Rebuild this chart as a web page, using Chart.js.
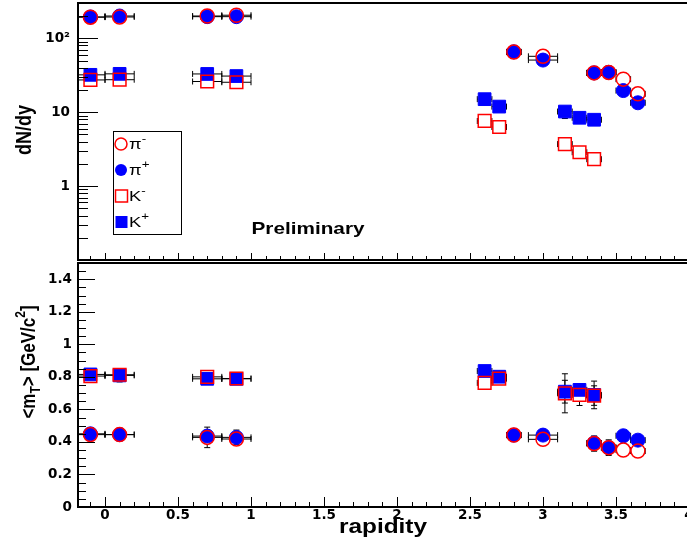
<!DOCTYPE html>
<html>
<head>
<meta charset="utf-8">
<script src="https://cdn.jsdelivr.net/npm/chart.js@4.4.0/dist/chart.umd.min.js"></script>
<style>
  html, body { margin: 0; padding: 0; background: #fff; overflow: hidden; }
  #wrap { position: relative; width: 687px; height: 546px; overflow: hidden; }
  #top { position: absolute; left: 0; top: 0; }
  #bottom { position: absolute; left: 0; top: 262px; }
</style>
</head>
<body>
<div id="wrap">
  <canvas id="top" width="700" height="262"></canvas>
  <canvas id="bottom" width="700" height="284"></canvas>
</div>
<script>
// rapidity points
const pionRapidity = [-0.1, 0.1, 0.7, 0.9, 2.8, 3.0, 3.35, 3.45, 3.55, 3.65];
const pionRapidityErr = [0.1, 0.1, 0.1, 0.1, 0.05, 0.1, 0.05, 0.05, 0.05, 0.05];
const kaonRapidity = [-0.1, 0.1, 0.7, 0.9, 2.6, 2.7, 3.15, 3.25, 3.35];
const kaonRapidityErr = [0.1, 0.1, 0.1, 0.1, 0.05, 0.05, 0.05, 0.05, 0.05];

// dN/dy
const piMinusDndy = [193, 194, 200, 205, 65, 57, 34, 34.5, 28, 17.7];
const piPlusDndy = [194, 200, 196, 196, 65.5, 50.7, 34, 34.6, 19.6, 13.4];
const piDndyErr = [4, 4, 4, 4, 1.5, 1.5, 1, 1, 0.8, 0.6];
const kMinusDndy = [27.3, 27.5, 26, 25.4, 7.6, 6.3, 3.7, 2.87, 2.31];
const kPlusDndy = [32, 33, 32.9, 30.8, 15.0, 11.9, 10.2, 8.4, 7.9];
const kMinusDndyErr = [1, 1, 1, 1, 0.3, 0.3, 0.2, 0.15, 0.12];
const kPlusDndyErr = [1, 1, 1, 1, 0.6, 0.5, 2.0, 0.4, 0.4];

// <mT>
const piMinusMt = [0.445, 0.445, 0.428, 0.418, 0.442, 0.416, 0.39, 0.365, 0.35, 0.344];
const piPlusMt = [0.45, 0.445, 0.436, 0.428, 0.442, 0.442, 0.393, 0.365, 0.438, 0.411];
const piMinusMtErr = [0.01, 0.01, 0.063, 0.03, 0.01, 0.01, 0.047, 0.048, 0.01, 0.01];
const piPlusMtErr = [0.01, 0.01, 0.03, 0.045, 0.01, 0.01, 0.04, 0.03, 0.02, 0.02];
const kMinusMt = [0.805, 0.813, 0.8, 0.79, 0.763, 0.789, 0.699, 0.689, 0.685];
const kPlusMt = [0.815, 0.809, 0.788, 0.788, 0.836, 0.801, 0.709, 0.72, 0.689];
const kMinusMtErr = [0.01, 0.01, 0.01, 0.01, 0.01, 0.01, 0.12, 0.065, 0.06];
const kPlusMtErr = [0.01, 0.04, 0.01, 0.01, 0.01, 0.01, 0.07, 0.03, 0.085];

// axes
const xMin = -0.185, xMax = 4;
const xTicks = [0, 0.5, 1, 1.5, 2, 2.5, 3, 3.5, 4];
const dndyTicks = [1, 10, 100];
const dndyTickLabels = ['1', '10', '10\u00b2'];
const mtTicks = [0, 0.2, 0.4, 0.6, 0.8, 1, 1.2, 1.4];

const RED = '#ff0000', BLUE = '#0000ff';
const tickFont = { family: 'DejaVu Sans', weight: 'bold', size: 13.5 };
const SX = 1.22; // the original text is horizontally stretched

function pts(xs, ys) { return xs.map((x, i) => ({ x: x, y: ys[i] })); }

function series(label, xs, ys, xerr, yerr, open, style) {
  return {
    label: label,
    data: pts(xs, ys),
    xErr: xerr, yErr: yerr,
    showLine: false,
    pointStyle: style,
    pointRadius: style === 'rect' ? 9 : 7,
    borderWidth: open ? 1.5 : 1,
    borderColor: open ? RED : BLUE,
    backgroundColor: open ? 'rgba(0,0,0,0)' : BLUE,
    errGap: style === 'rect' ? 6.3 : 7
  };
}

function richText(ctx, x, y, parts, opt) {
  ctx.save();
  ctx.translate(x, y);
  ctx.scale(SX, 1);
  if (opt.rotate) ctx.rotate(-Math.PI / 2);
  ctx.textBaseline = 'alphabetic';
  ctx.textAlign = 'left';
  ctx.fillStyle = '#000';
  let w = 0;
  parts.forEach(p => { ctx.font = p.font; w += ctx.measureText(p.t).width; });
  let cx = opt.align === 'left' ? 0 : -w / 2;
  parts.forEach(p => {
    ctx.font = p.font;
    ctx.fillText(p.t, cx, p.dy || 0);
    cx += ctx.measureText(p.t).width;
  });
  ctx.restore();
}

const errorBars = {
  id: 'errorBars',
  beforeDatasetsDraw(chart) {
    const { ctx, chartArea: a } = chart;
    const xs = chart.scales.x, ys = chart.scales.y;
    ctx.save();
    ctx.beginPath();
    ctx.rect(a.left, a.top, a.right - a.left, a.bottom - a.top);
    ctx.clip();
    ctx.strokeStyle = '#000';
    ctx.lineWidth = 1;
    chart.data.datasets.forEach(ds => {
      const g = ds.errGap;
      ds.data.forEach((p, i) => {
        const px = xs.getPixelForValue(p.x), py = ys.getPixelForValue(p.y);
        const ex = ds.xErr[i], ey = ds.yErr[i];
        const xl = xs.getPixelForValue(p.x - ex), xr = xs.getPixelForValue(p.x + ex);
        const yt = ys.getPixelForValue(p.y + ey), yb = ys.getPixelForValue(p.y - ey);
        ctx.beginPath();
        if (px - xl > g) {
          ctx.moveTo(xl, py); ctx.lineTo(px - g, py);
          ctx.moveTo(xl, py - 3); ctx.lineTo(xl, py + 3);
        }
        if (xr - px > g) {
          ctx.moveTo(px + g, py); ctx.lineTo(xr, py);
          ctx.moveTo(xr, py - 3); ctx.lineTo(xr, py + 3);
        }
        if (py - yt > g) {
          ctx.moveTo(px, yt); ctx.lineTo(px, py - g);
          ctx.moveTo(px - 3, yt); ctx.lineTo(px + 3, yt);
        }
        if (yb - py > g) {
          ctx.moveTo(px, py + g); ctx.lineTo(px, yb);
          ctx.moveTo(px - 3, yb); ctx.lineTo(px + 3, yb);
        }
        ctx.stroke();
      });
    });
    ctx.restore();
  }
};

// frame with inward ROOT-style ticks
const frame = {
  id: 'frame',
  afterDraw(chart, args, opts) {
    const { ctx, chartArea: a } = chart;
    const xs = chart.scales.x, ys = chart.scales.y;
    ctx.save();
    ctx.strokeStyle = '#000';
    ctx.lineWidth = 1;
    ctx.beginPath();
    opts.yMarks(ys).forEach(t => {
      const py = Math.round(ys.getPixelForValue(t[0])) + 0.5;
      ctx.moveTo(a.left, py); ctx.lineTo(a.left + t[1], py);
    });
    for (let i = -1; i <= 40; i++) {
      const v = i / 10;
      if (v < xs.min || v > xs.max) continue;
      const px = Math.round(xs.getPixelForValue(v)) + 0.5;
      const len = i % 5 === 0 ? opts.xMajor : opts.xMinor;
      ctx.moveTo(px, a.bottom); ctx.lineTo(px, a.bottom - len);
    }
    ctx.stroke();
    ctx.lineWidth = 2;
    ctx.strokeRect(a.left, a.top, a.right - a.left, a.bottom - a.top);
    if (opts.extra) opts.extra(chart);
    ctx.restore();
  }
};

function logMarks(s) {
  const out = [];
  for (let e = -1; e <= 2; e++) {
    for (let k = 1; k <= 9; k++) {
      const v = k * Math.pow(10, e);
      if (v >= s.min && v <= s.max) out.push([v, k === 1 ? 20 : 10]);
    }
  }
  return out;
}

function linMarks(s) {
  const out = [];
  for (let i = 0; i <= 30; i++) {
    const v = i * 0.05;
    if (v <= s.max) out.push([v, i % 4 === 0 ? 17 : 8]);
  }
  return out;
}

function fitY(w) {
  return s => { s.width = w; s.paddingTop = 0; s.paddingBottom = 0; };
}

const legendItems = [
  { name: '\u03c0', sup: '-', open: true, style: 'circle' },
  { name: '\u03c0', sup: '+', open: false, style: 'circle' },
  { name: 'K', sup: '-', open: true, style: 'rect' },
  { name: 'K', sup: '+', open: false, style: 'rect' }
];

function topExtras(chart) {
  const ctx = chart.ctx;
  // legend box
  ctx.lineWidth = 1;
  ctx.strokeRect(113.5, 131.5, 68, 103);
  legendItems.forEach((it, i) => {
    const y = 144 + i * 26;
    ctx.beginPath();
    ctx.lineWidth = 1.5;
    ctx.strokeStyle = it.open ? RED : BLUE;
    ctx.fillStyle = BLUE;
    if (it.style === 'circle') ctx.arc(121, y, 6, 0, Math.PI * 2);
    else ctx.rect(115.5, y - 6, 12, 12);
    if (it.open) ctx.stroke(); else ctx.fill();
    richText(ctx, 129, y + 5, [
      { t: it.name, font: '15px "Liberation Sans"' },
      { t: it.sup, font: '11px "Liberation Sans"', dy: -7 }
    ], { align: 'left' });
  });
  ctx.strokeStyle = '#000';
  richText(ctx, 308, 234, [{ t: 'Preliminary', font: 'bold 17px "Liberation Sans"' }], {});
  richText(ctx, 31, 130, [{ t: 'dN/dy', font: 'bold 18px "Liberation Sans"' }], { rotate: true });
}

function bottomExtras(chart) {
  const ctx = chart.ctx;
  richText(ctx, 383, 533 - 262, [{ t: 'rapidity', font: 'bold 20px "Liberation Sans"' }], {});
  const f = 'bold 17px "Liberation Sans"', fs = 'bold 12px "Liberation Sans"';
  richText(ctx, 35, 362 - 262, [
    { t: '<m', font: f },
    { t: 'T', font: fs, dy: 4 },
    { t: '> [GeV/c', font: f },
    { t: '2', font: fs, dy: -8 },
    { t: ']', font: f }
  ], { rotate: true });
}

new Chart(document.getElementById('top'), {
  type: 'scatter',
  plugins: [errorBars, frame],
  data: {
    datasets: [
      series('\u03c0-', pionRapidity, piMinusDndy, pionRapidityErr, piDndyErr, true, 'circle'),
      series('\u03c0+', pionRapidity, piPlusDndy, pionRapidityErr, piDndyErr, false, 'circle'),
      series('K-', kaonRapidity, kMinusDndy, kaonRapidityErr, kMinusDndyErr, true, 'rect'),
      series('K+', kaonRapidity, kPlusDndy, kaonRapidityErr, kPlusDndyErr, false, 'rect')
    ]
  },
  options: {
    responsive: false,
    animation: false,
    events: [],
    layout: { autoPadding: false, padding: { top: 3, right: 11, bottom: 2, left: 0 } },
    plugins: {
      legend: { display: false },
      tooltip: { enabled: false },
      frame: { yMarks: logMarks, xMajor: 7, xMinor: 4, extra: topExtras }
    },
    scales: {
      x: { type: 'linear', min: xMin, max: xMax, display: false },
      y: {
        type: 'logarithmic', min: 0.1, max: 300,
        afterFit: fitY(78),
        afterBuildTicks: s => { s.ticks = dndyTicks.map(v => ({ value: v })); },
        grid: { display: false, drawTicks: false },
        border: { display: false },
        ticks: {
          autoSkip: false, padding: 8, color: '#000', font: tickFont,
          callback: (v, i) => dndyTickLabels[i]
        }
      }
    }
  }
});

new Chart(document.getElementById('bottom'), {
  type: 'scatter',
  plugins: [errorBars, frame],
  data: {
    datasets: [
      series('\u03c0-', pionRapidity, piMinusMt, pionRapidityErr, piMinusMtErr, true, 'circle'),
      series('\u03c0+', pionRapidity, piPlusMt, pionRapidityErr, piPlusMtErr, false, 'circle'),
      series('K-', kaonRapidity, kMinusMt, kaonRapidityErr, kMinusMtErr, true, 'rect'),
      series('K+', kaonRapidity, kPlusMt, kaonRapidityErr, kPlusMtErr, false, 'rect')
    ]
  },
  options: {
    responsive: false,
    animation: false,
    events: [],
    layout: { autoPadding: false, padding: { top: 1, right: 11, bottom: 0, left: 0 } },
    plugins: {
      legend: { display: false },
      tooltip: { enabled: false },
      frame: { yMarks: linMarks, xMajor: 10, xMinor: 5, extra: bottomExtras }
    },
    scales: {
      x: {
        type: 'linear', min: xMin, max: xMax,
        afterFit: s => { s.height = 39; s.paddingLeft = 0; s.paddingRight = 0; },
        afterBuildTicks: s => { s.ticks = xTicks.map(v => ({ value: v })); },
        grid: { display: false, drawTicks: false },
        border: { display: false },
        ticks: { autoSkip: false, maxRotation: 0, padding: 0, color: '#000', font: tickFont,
                 callback: v => String(v) }
      },
      y: {
        type: 'linear', min: 0, max: 1.5,
        afterFit: fitY(78),
        afterBuildTicks: s => { s.ticks = mtTicks.map(v => ({ value: v })); },
        grid: { display: false, drawTicks: false },
        border: { display: false },
        ticks: { autoSkip: false, padding: 6, color: '#000', font: tickFont,
                 callback: v => String(v) }
      }
    }
  }
});
</script>
</body>
</html>
